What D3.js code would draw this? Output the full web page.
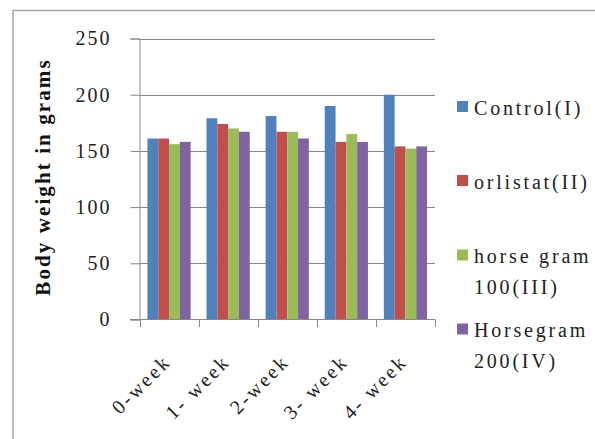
<!DOCTYPE html>
<html>
<head>
<meta charset="utf-8">
<script src="https://cdn.jsdelivr.net/npm/d3@7"></script>
<style>
  body { margin: 0; background: #fff; }
</style>
</head>
<body>
<div class="vis"></div>
<script>
// data
const weeks = ['0-week', '1- week', '2-week', '3- week', '4- week'];
const seriesNames = ['Control(I)', 'orlistat(II)', 'horse gram 100(III)', 'Horsegram 200(IV)'];
const legendLines = [['Control(I)'], ['orlistat(II)'], ['horse gram', '100(III)'], ['Horsegram', '200(IV)']];
const control = [161, 179, 181, 190, 200];
const orlistat = [161, 174, 167, 158, 154];
const horse100 = [156, 170, 167, 165, 152];
const horse200 = [158, 167, 161, 158, 154];
const yTicks = [0, 50, 100, 150, 200, 250];
const colors = ['#4f81bd', '#c0504d', '#9bbb59', '#8064a2'];

const serif = '"Liberation Serif", "Times New Roman", serif';
const W = 595, H = 439;

const svg = d3.select('.vis')
    .append('svg')
    .attr('width', W)
    .attr('height', H)
    .attr('font-family', serif);

// outer border (runs off right/bottom like the reference)
svg.append('rect')
    .attr('x', 13).attr('y', 10.5)
    .attr('width', 600).attr('height', 450)
    .attr('fill', 'none')
    .attr('stroke', '#a6a6a6')
    .attr('stroke-width', 1.5);

const x0 = d3.scaleBand()
    .domain(weeks)
    .range([139.5, 435]);

const x1 = d3.scaleBand()
    .domain(d3.range(4))
    .range([0, x0.bandwidth()])
    .paddingInner(0)
    .paddingOuter(0.735); // excel gap width ~150%

const y = d3.scaleLinear()
    .domain([0, 250])
    .range([319.5, 38.5]);

// gridlines
svg.append('g')
    .selectAll('line')
    .data(yTicks.filter(d => d > 0))
    .join('line')
    .attr('x1', 139.5).attr('x2', 435)
    .attr('y1', d => Math.round(y(d)) + 0.5)
    .attr('y2', d => Math.round(y(d)) + 0.5)
    .attr('stroke', '#878787')
    .attr('stroke-width', 1);

// bars
const allSeries = [control, orlistat, horse100, horse200];
weeks.forEach((w, i) => {
    allSeries.forEach((s, j) => {
        svg.append('rect')
            .attr('x', x0(w) + x1(j))
            .attr('y', y(s[i]))
            .attr('width', x1.bandwidth())
            .attr('height', y(0) - y(s[i]))
            .attr('fill', colors[j]);
    });
});

// y axis
const yAxis = d3.axisLeft(y)
    .tickValues(yTicks)
    .tickSize(9)
    .tickPadding(19)
    .tickFormat(d3.format('d'));
const gy = svg.append('g')
    .attr('transform', 'translate(139.5,0)')
    .call(yAxis)
    .attr('font-family', serif);
gy.select('.domain').attr('stroke', '#878787');
gy.selectAll('.tick line').attr('stroke', '#878787');
gy.selectAll('.tick text')
    .attr('font-size', '20px')
    .attr('letter-spacing', '2px')
    .attr('fill', '#222');

// x axis (ticks at category boundaries)
const xAxisG = svg.append('g');
xAxisG.append('line')
    .attr('x1', 130).attr('x2', 435)
    .attr('y1', 319.5).attr('y2', 319.5)
    .attr('stroke', '#878787');
const bounds = weeks.map(w => x0(w)).concat([x0(weeks[weeks.length - 1]) + x0.bandwidth()]);
xAxisG.selectAll('.xt')
    .data(bounds)
    .join('line')
    .attr('x1', d => Math.round(d) + 0.5).attr('x2', d => Math.round(d) + 0.5)
    .attr('y1', 319.5).attr('y2', 327)
    .attr('stroke', '#878787');

xAxisG.selectAll('.xl')
    .data(weeks)
    .join('text')
    .attr('transform', d => 'translate(' + (x0(d) + x0.bandwidth() / 2 + 3) + ',' + 363 + ') rotate(-45)')
    .attr('text-anchor', 'end')
    .attr('font-family', serif)
    .attr('font-size', '20px')
    .attr('letter-spacing', '2.5px')
    .attr('fill', '#222')
    .text(d => d);

// y title
svg.append('text')
    .attr('transform', 'translate(50,177) rotate(-90)')
    .attr('text-anchor', 'middle')
    .attr('font-family', serif)
    .attr('font-size', '21px')
    .attr('font-weight', 'bold')
    .attr('letter-spacing', '2.1px')
    .attr('fill', '#111')
    .text('Body weight in grams');

// legend
const legendY = [106.5, 180.5, 255, 329];
const lg = svg.append('g');
legendLines.forEach((lines, i) => {
    lg.append('rect')
        .attr('x', 457).attr('y', legendY[i] - 5.5)
        .attr('width', 11).attr('height', 11)
        .attr('fill', colors[i]);
    lines.forEach((ln, k) => {
        lg.append('text')
            .attr('x', 474)
            .attr('y', legendY[i] + 8 + k * 31)
            .attr('font-family', serif)
            .attr('font-size', '20px')
            .attr('letter-spacing', '2.8px')
            .attr('fill', '#222')
            .text(ln);
    });
});
</script>
</body>
</html>
